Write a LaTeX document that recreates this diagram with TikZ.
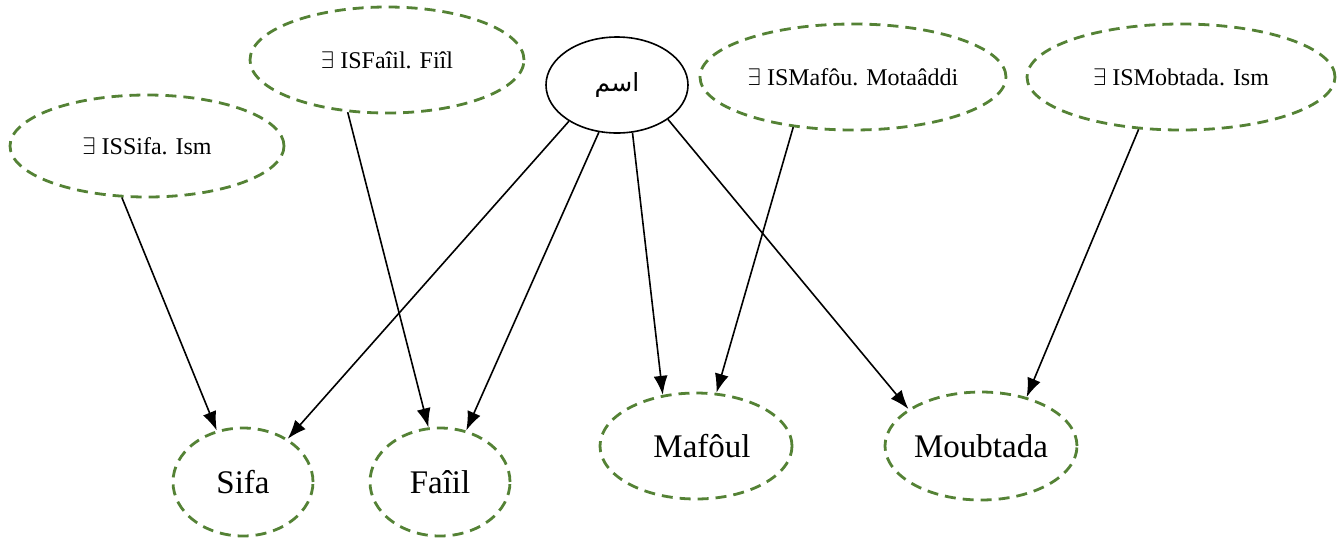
\documentclass[tikz,border=0pt]{standalone}
\usepackage{fontspec}
\setmainfont{Liberation Serif}
\newfontfamily\arabicfont[Script=Arabic]{DejaVu Sans}
\TeXXeTstate=1
\usetikzlibrary{shapes.geometric,arrows.meta}
\definecolor{dashgreen}{RGB}{84,130,53}

\begin{document}
\begin{tikzpicture}[x=0.5pt,y=-0.5pt,
  concept/.style={ellipse, draw=dashgreen, line width=1.4pt,
    dash pattern=on 5.5pt off 3.5pt, inner sep=0pt,
    font=\fontsize{12}{14}\selectfont},
  role/.style={concept, font=\fontsize{16.5}{19}\selectfont},
  root/.style={ellipse, draw, line width=0.8pt, inner sep=0pt,
    font=\arabicfont\fontsize{12.5}{14}\selectfont},
  link/.style={-{Latex[length=9.5pt,width=7pt]}, line width=0.8pt}]
\useasboundingbox (0,0) rectangle (1338,537);

% restriction concepts (top row)
\node[concept, minimum width=137pt, minimum height=51pt] (qsifa) at (147,146) {$\exists$ ISSifa. Ism};
\node[concept, minimum width=137pt, minimum height=53pt] (qfail) at (387,60) {$\exists$ ISFaîil. Fiîl};
\node[root, minimum width=71pt, minimum height=48pt] (ism) at (617,85) {\beginR اسم\endR};
\node[concept, minimum width=153pt, minimum height=53pt] (qmaf) at (853,77) {$\exists$ ISMafôu. Motaâddi};
\node[concept, minimum width=154pt, minimum height=53pt] (qmob) at (1181,77) {$\exists$ ISMobtada. Ism};

% syntactic roles (bottom row)
\node[role, minimum width=70pt, minimum height=54pt] (sifa) at (243,482) {Sifa};
\node[role, minimum width=70pt, minimum height=54pt] (fail) at (440,482) {Faîil};
\node[role, minimum width=96pt, minimum height=53pt] (mafoul) at (696,446) {\hspace*{6pt}Mafôul};
\node[role, minimum width=96pt, minimum height=54pt] (moubtada) at (981,446) {Moubtada};

% links
\draw[link] (qsifa.244) -- (sifa.117);
\draw[link] (qfail.233) -- (fail.102);
\draw[link] (ism.217) -- (sifa.44);
\draw[link] (ism.249) -- (fail.63);
\draw[link] (ism.288) -- (mafoul.123);
\draw[link] (ism.326) -- (moubtada.153);
\draw[link] (qmaf.220) -- (mafoul.69);
\draw[link] (qmob.231) -- (moubtada.47);
\end{tikzpicture}
\end{document}
